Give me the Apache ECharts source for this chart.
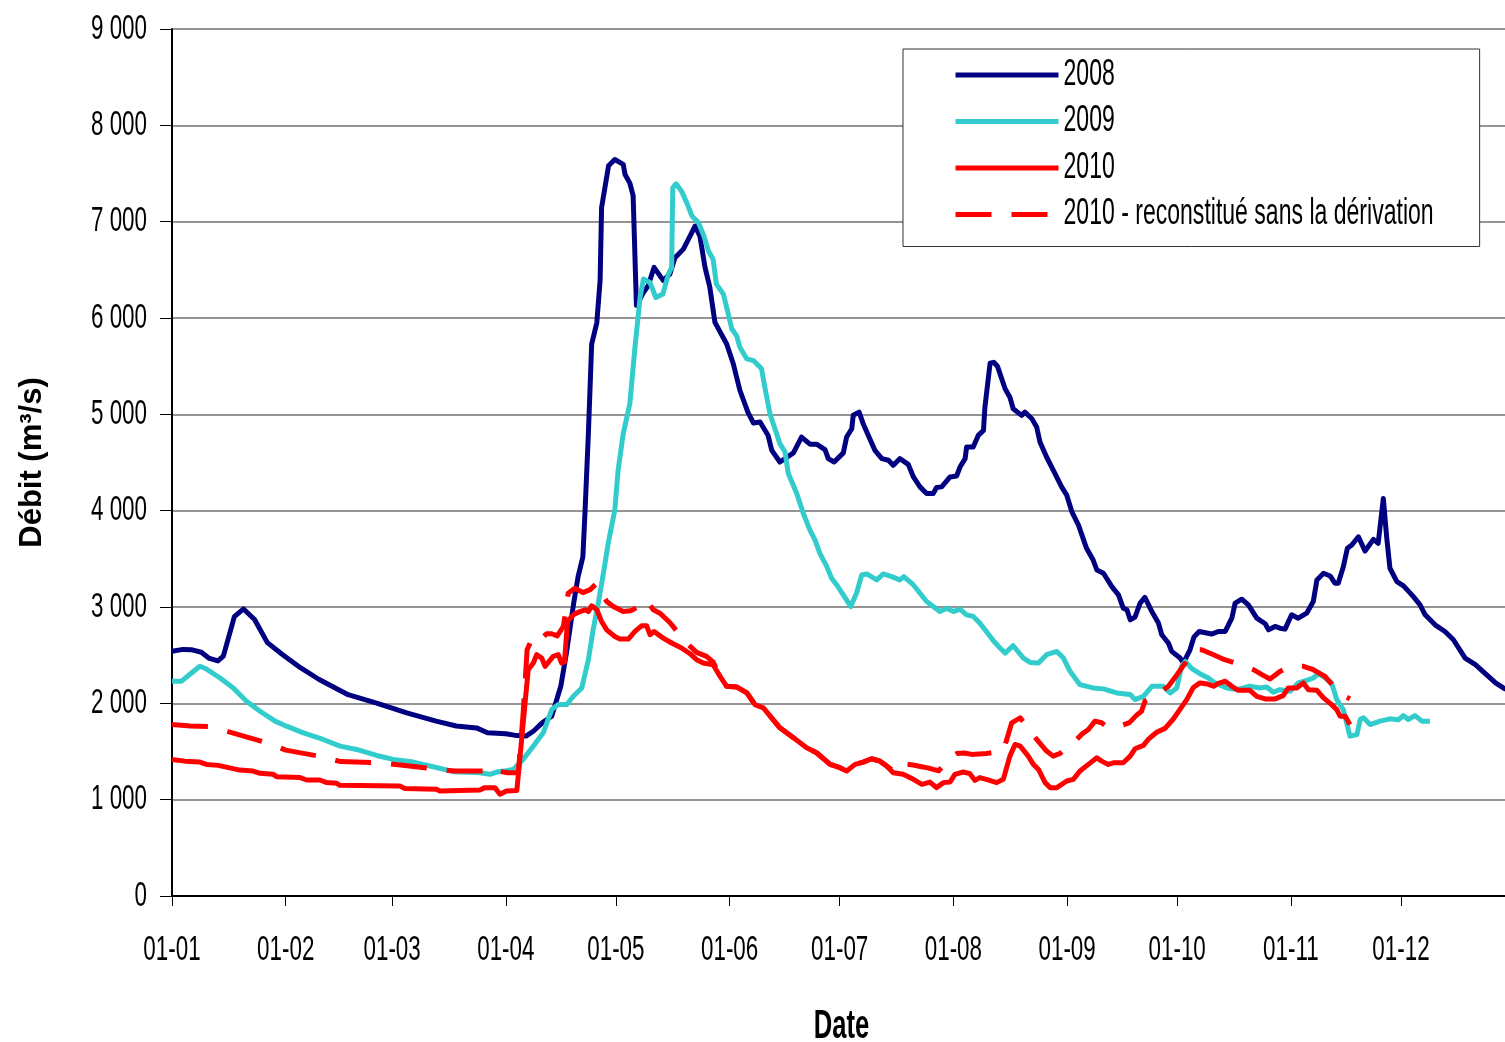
<!DOCTYPE html>
<html lang="fr">
<head>
<meta charset="utf-8">
<title>Débit journalier 2008-2010</title>
<script src="https://cdn.jsdelivr.net/npm/echarts@6/dist/echarts.min.js"></script>
<style>
  html, body { margin: 0; padding: 0; background: #fff; }
  #chart { width: 1505px; height: 1042px; }
</style>
</head>
<body>
<div id="chart"></div>
<script>
// Axe des dates : jour de l'année (0 = 1er janvier), début de chaque mois
const monthStarts = [0, 31, 60, 91, 121, 152, 182, 213, 244, 274, 305, 335];
const monthLabels = ['01-01', '01-02', '01-03', '01-04', '01-05', '01-06',
                     '01-07', '01-08', '01-09', '01-10', '01-11', '01-12'];

const seriesNames = ['2008', '2009', '2010', '2010 - reconstitué sans la dérivation'];

// Débits journaliers [jour, m3/s]
const flow2008 = [
  [0,2540],[3,2560],[5.5,2555],[8,2530],[10,2470],[12.5,2440],[14,2490],[17,2900],[19.5,2980],[22.5,2870],
  [26,2630],[30,2510],[35,2370],[40,2250],[48,2090],[56,2000],[64,1900],[72,1815],[77.5,1765],[83,1745],
  [86,1695],[91,1685],[94,1665],[96.5,1660],[98.5,1710],[101,1800],[103.5,1866],[106,2180],[107.5,2520],
  [109.5,3040],[110.7,3315],[112,3520],[112.6,4000],[113.5,4800],[114.4,5730],[115.8,5950],[116.7,6390],
  [117.1,7145],[119,7580],[120.7,7645],[123,7595],[123.5,7490],[124.8,7400],[125.7,7270],[126.6,6130],
  [128.5,6265],[129.8,6335],[131.4,6525],[133.9,6390],[135.7,6455],[137.1,6625],[139.4,6715],[141.2,6850],
  [142.6,6955],[143.9,6850],[145.3,6525],[146.6,6320],[148,5955],[151.2,5730],[153,5525],[154.8,5250],
  [157,5020],[158.5,4910],[160.3,4920],[162.5,4780],[163.5,4626],[165.7,4505],[169.4,4600],[171.6,4764],
  [173.9,4690],[175.7,4690],[178,4634],[178.9,4540],[180.5,4505],[183,4600],[183.9,4764],[185.3,4851],
  [185.7,4990],[187.3,5023],[188.4,4903],[191.6,4626],[193.5,4540],[195.3,4523],[196.6,4471],[198.4,4540],
  [200.7,4481],[202.1,4350],[203.9,4247],[205.7,4178],[207.5,4178],[208.4,4240],[209.8,4247],[212.1,4350],
  [213.9,4360],[214.8,4453],[216.2,4540],[216.6,4660],[218.4,4660],[219.8,4782],[221.2,4833],[221.6,5075],
  [223,5530],[224,5540],[225,5500],[227.1,5265],[228.4,5178],[229.3,5058],[231.6,4989],[232.5,5023],
  [234.4,4954],[235.7,4868],[236.6,4713],[238.4,4557],[240.7,4385],[242.5,4247],[243.9,4161],[245.3,3988],
  [247.1,3850],[249.3,3609],[251.1,3488],[252.1,3384],[253.9,3350],[256.2,3212],[258,3126],[259.3,2988],
  [260.3,2971],[261.2,2867],[262.5,2895],[263.9,3040],[265.2,3100],[267.1,2953],[268.9,2833],[269.8,2712],
  [271.6,2626],[272.5,2539],[274.8,2470],[275.7,2420],[277.5,2556],[278.6,2690],[280,2746],[283.4,2719],
  [285.2,2746],[287.1,2746],[288.9,2884],[289.8,3040],[291.6,3081],[293.4,3022],[295.7,2884],[298,2826],
  [298.9,2763],[300.7,2798],[302,2780],[303.4,2770],[305.2,2919],[307,2884],[309.3,2936],[311.1,3057],
  [312.1,3281],[313.9,3350],[315.7,3322],[317,3247],[317.9,3247],[319.3,3419],[320.4,3609],[321.6,3643],
  [323.4,3729],[325.2,3581],[327.5,3702],[328.8,3661],[330.2,4126],[331.1,3729],[332,3402],[333.9,3263],
  [335.7,3219],[338.4,3108],[340.2,3022],[341.6,2919],[344.3,2815],[347,2746],[349.3,2660],[352.5,2470],
  [355.3,2401],[358,2308],[360.8,2212],[362.9,2160],[365,2120]
];

const flow2009 = [
  [0,2230],[2.6,2230],[5.3,2315],[7.6,2385],[9.4,2356],[13.1,2263],[16.7,2160],[20.3,2022],[24,1918],
  [28.1,1815],[31.2,1763],[35.8,1694],[41.2,1625],[45.8,1556],[50.3,1521],[55.8,1459],[60.3,1418],
  [65.8,1390],[71.2,1342],[76.7,1291],[83.9,1280],[86.7,1263],[88.5,1287],[91,1300],[93,1314],[95.7,1418],
  [98.5,1556],[101.2,1694],[103.5,1935],[105.3,1987],[107.6,1987],[109.4,2073],[111.7,2160],[113.5,2453],
  [114.8,2763],[116.2,3040],[117.6,3350],[118.9,3661],[120.7,4005],[121.6,4419],[123,4800],[124.8,5110],
  [126.2,5696],[127.6,6213],[128.5,6404],[130.3,6368],[131.9,6213],[133.8,6248],[135.3,6455],[136.2,6524],
  [136.5,7352],[137.4,7393],[138.9,7317],[140.7,7162],[141.7,7059],[143.5,6990],[145,6852],[146.2,6697],
  [147.5,6610],[148.4,6352],[150.3,6248],[151.2,6110],[152.6,5886],[153.9,5817],[154.8,5696],[156.7,5575],
  [158.5,5558],[160.7,5472],[161.6,5282],[163,5006],[164.8,4799],[165.7,4696],[167.1,4609],[168,4385],
  [170.3,4178],[172.1,3971],[173.9,3798],[175.3,3695],[176.6,3557],[178.5,3419],[179.8,3298],[181.2,3229],
  [183,3126],[185,3005],[186.6,3143],[188,3333],[189.4,3343],[192.1,3281],[193.9,3343],[196.2,3315],
  [198.4,3281],[199.5,3315],[202.1,3229],[203.9,3143],[205.7,3057],[209.3,2953],[211.2,2988],[213,2953],
  [214.8,2978],[216.6,2919],[218.4,2902],[220.2,2833],[222,2746],[223.9,2650],[225.7,2574],[227.1,2522],
  [229.3,2598],[232.1,2470],[233.9,2425],[236.2,2419],[238.4,2505],[241.2,2539],[243,2470],[244.8,2332],
  [247.5,2194],[251.1,2160],[253.9,2150],[257.5,2108],[261.2,2091],[262.5,2039],[264.8,2073],[267.1,2177],
  [270.2,2177],[272.1,2108],[273.9,2160],[275.2,2384],[276.2,2435],[278,2360],[280.2,2308],[282.5,2263],
  [284.3,2212],[287.5,2160],[290.2,2142],[293.8,2177],[296.5,2160],[298.4,2170],[300.2,2115],[302,2142],
  [304.8,2125],[307,2212],[309.3,2239],[311.1,2263],[312.5,2308],[314.3,2263],[316.1,2212],[317.5,2039],
  [319.3,1935],[321.1,1659],[323,1677],[323.9,1832],[324.8,1850],[326.6,1780],[329.3,1815],[332,1839],
  [334.3,1830],[335.7,1873],[337,1832],[338.8,1873],[340.7,1815],[342.9,1815]
];

const flow2010 = [
  [0,1418],[3.5,1400],[7.6,1390],[9.4,1366],[12.6,1356],[18.5,1307],[22.1,1297],[24,1273],[27.6,1263],
  [28.5,1239],[34.9,1229],[36.7,1204],[40.3,1204],[42.2,1177],[44.9,1170],[45.8,1149],[62.1,1142],
  [63.5,1115],[72.1,1107],[73,1090],[83.9,1100],[85.3,1125],[88,1125],[89.4,1056],[91.2,1090],[94,1095],
  [97.1,2349],[98.5,2419],[99.4,2505],[100.8,2470],[101.7,2384],[103.9,2487],[105.3,2505],[106.2,2419],
  [107,2430],[107.8,2850],[109.4,2919],[111.2,2953],[112.6,2971],[113.5,2953],[114.4,3012],[115.8,2971],
  [117.1,2850],[118.5,2763],[120.7,2694],[122.1,2667],[124.4,2667],[126.2,2746],[128,2805],[129.4,2805],
  [130.3,2712],[131.4,2746],[133.9,2677],[136.2,2626],[138.9,2574],[141.2,2515],[143,2453],[144.8,2419],
  [147.5,2401],[149.4,2280],[151.2,2177],[153.9,2170],[156.7,2108],[158.9,1987],[161.2,1953],[165.7,1746],
  [169.4,1643],[173,1539],[175.7,1487],[179.4,1366],[182.1,1332],[183.9,1297],[186.2,1366],[188.4,1390],
  [190.7,1425],[193,1400],[194.8,1349],[196.6,1280],[199.3,1263],[202.1,1211],[204.4,1159],[206.6,1183],
  [208.4,1125],[210.3,1177],[212.1,1183],[213.4,1263],[215.7,1287],[217.5,1270],[218.9,1200],[220.2,1229],
  [222,1211],[224.8,1177],[226.6,1211],[228.4,1452],[229.8,1573],[231.2,1556],[233.4,1452],[234.8,1366],
  [236.2,1314],[238,1177],[239.4,1125],[241.2,1125],[243.9,1194],[245.7,1211],[247.5,1297],[249.8,1366],
  [252.1,1435],[253.4,1400],[255.2,1366],[256.6,1383],[259.3,1383],[261.2,1452],[262.5,1528],[264.8,1563],
  [266.1,1625],[268.4,1700],[270.7,1740],[273,1840],[275,1950],[276.6,2039],[278.4,2165],[280.2,2212],
  [282.3,2200],[283.9,2177],[285.2,2208],[287.1,2229],[288.9,2177],[290.7,2135],[293.8,2135],[295.7,2073],
  [298,2046],[300.7,2046],[302.9,2080],[304.3,2160],[306.6,2160],[308.4,2212],[309.8,2142],[312.1,2135],
  [313.9,2056],[316.1,1987],[317.5,1935],[318.4,1866],[319.8,1866],[321.1,1780]
];

// 2010 reconstitué sans la dérivation
const flow2010Rec = [
  [0,1780],[5,1765],[10,1758],[14,1720],[20,1655],[26,1590],[31,1514],[40,1452],[46,1395],[56,1385],
  [61,1366],[71,1321],[77,1297],[85,1297],[86,1330],[88,1300],[91.6,1280],[94.4,1280],[95.7,1884],
  [96.8,2556],[98,2660],[99.4,2712],[100.8,2677],[102.1,2722],[103.5,2722],[105,2700],[106.7,2798],
  [108,3143],[109.8,3195],[112,3150],[114,3180],[115.8,3247],[117.1,3143],[118.5,3057],[120.3,3005],
  [123,2953],[125,2960],[127,3000],[129.4,3074],[131.2,2971],[133,2936],[135.7,2839],[138,2730],
  [140.3,2626],[143,2529],[145.7,2487],[147.5,2430],[149.4,2280],[151.2,2177],[153.9,2170],[156.7,2108],
  [158.9,1987],[161.2,1953],[165.7,1746],[169.4,1643],[173,1539],[175.7,1487],[179.4,1366],[182.1,1332],
  [183.9,1297],[186.2,1366],[188.4,1390],[190.7,1425],[193,1400],[194.8,1349],[196.6,1300],[198.4,1380],
  [200,1370],[202,1360],[204,1345],[206,1330],[207.5,1314],[209,1300],[212,1435],[214,1480],[216,1485],
  [218,1470],[220,1475],[222,1480],[224,1490],[226.6,1504],[228.9,1798],[231.2,1850],[233,1760],
  [235.7,1625],[238.4,1504],[240.2,1452],[242.1,1480],[243.9,1539],[246,1600],[248,1680],[249.8,1728],
  [251.6,1815],[253.4,1798],[255.2,1746],[258.4,1763],[261,1800],[263,1880],[264.3,1918],[265.2,2022],
  [267.5,2073],[269.8,2125],[271.6,2177],[274,2300],[276.2,2419],[277.5,2522],[279.3,2556],[280.7,2556],
  [283.9,2505],[286.5,2460],[289.8,2419],[292,2390],[294.8,2349],[297.1,2298],[299.3,2253],[302,2330],
  [304.8,2384],[308.4,2384],[311.1,2349],[314.3,2280],[316.5,2180],[318.9,2091],[321.1,2046]
];

// Police étroite : "Arial Narrow" est émulée en comprimant horizontalement
// le texte dessiné (et sa mesure) lorsque la police n'est pas installée.
const NARROW_FAMILY = '"Arial Narrow", "Liberation Sans", Arial, sans-serif';
const NARROW_RATIO = 0.64;
(function () {
  const proto = CanvasRenderingContext2D.prototype;
  const fill = proto.fillText;
  const stroke = proto.strokeText;
  const measure = proto.measureText;
  const isNarrow = ctx => (ctx.font || '').indexOf('Arial Narrow') >= 0;
  function squeezed(draw) {
    return function (text, x, y) {
      if (!isNarrow(this)) return draw.apply(this, arguments);
      this.save();
      this.translate(x, y);
      this.scale(NARROW_RATIO, 1);
      draw.call(this, text, 0, 0);
      this.restore();
    };
  }
  proto.fillText = squeezed(fill);
  proto.strokeText = squeezed(stroke);
  proto.measureText = function (text) {
    const m = measure.call(this, text);
    if (!isNarrow(this)) return m;
    return {
      width: m.width * NARROW_RATIO,
      actualBoundingBoxLeft: m.actualBoundingBoxLeft * NARROW_RATIO,
      actualBoundingBoxRight: m.actualBoundingBoxRight * NARROW_RATIO,
      actualBoundingBoxAscent: m.actualBoundingBoxAscent,
      actualBoundingBoxDescent: m.actualBoundingBoxDescent,
      fontBoundingBoxAscent: m.fontBoundingBoxAscent,
      fontBoundingBoxDescent: m.fontBoundingBoxDescent
    };
  };
})();

function thousands(v) {
  return String(v).replace(/\B(?=(\d{3})+(?!\d))/g, ' ');
}

function lineSeries(name, data, color, type) {
  return {
    name: name,
    type: 'line',
    data: data,
    symbol: 'none',
    smooth: false,
    clip: true,
    lineStyle: { color: color, width: 5, type: type || 'solid', cap: 'butt', join: 'round' },
    itemStyle: { color: color }
  };
}

const chart = echarts.init(document.getElementById('chart'), null, { renderer: 'canvas' });

chart.setOption({
  backgroundColor: '#ffffff',
  animation: false,
  grid: { left: 172, top: 29, width: 1339, height: 867, containLabel: false, outerBoundsMode: 'none' },
  legend: {
    orient: 'vertical',
    left: 903,
    top: 49,
    itemWidth: 103,
    itemHeight: 26,
    itemGap: 20.5,
    padding: [13, 46, 19, 50],
    backgroundColor: '#ffffff',
    borderColor: '#333333',
    borderWidth: 1,
    itemStyle: { opacity: 0 },
    lineStyle: { width: 5 },
    textStyle: { fontFamily: NARROW_FAMILY, fontSize: 36, lineHeight: 26, color: '#000' },
    data: seriesNames.map(n => ({ name: n }))
  },
  xAxis: {
    type: 'value',
    min: 0,
    max: 365,
    name: 'Date',
    nameLocation: 'middle',
    nameGap: 111,
    nameTextStyle: { fontFamily: NARROW_FAMILY, fontWeight: 'bold', fontSize: 40, lineHeight: 40, color: '#000' },
    axisLine: { show: true, lineStyle: { color: '#000', width: 2 } },
    axisTick: { show: true, customValues: monthStarts, length: 10, lineStyle: { color: '#000', width: 1 } },
    axisLabel: {
      customValues: monthStarts,
      margin: 37,
      fontFamily: NARROW_FAMILY,
      fontSize: 35,
      lineHeight: 35,
      color: '#000',
      formatter: v => monthLabels[monthStarts.indexOf(v)] || ''
    },
    splitLine: { show: false }
  },
  yAxis: {
    type: 'value',
    min: 0,
    max: 9000,
    interval: 1000,
    name: 'Débit (m³/s)',
    nameLocation: 'middle',
    nameGap: 124,
    nameRotate: 90,
    nameTextStyle: { fontFamily: '"Liberation Sans", Arial, sans-serif', fontWeight: 'bold', fontSize: 31, color: '#000' },
    axisLine: { show: true, lineStyle: { color: '#000', width: 2 } },
    axisTick: { show: true, inside: false, length: 12, lineStyle: { color: '#000', width: 1 } },
    axisLabel: {
      margin: 25,
      fontFamily: NARROW_FAMILY,
      fontSize: 35,
      lineHeight: 35,
      padding: [0, 0, 10, 0],
      color: '#000',
      formatter: thousands
    },
    splitLine: { show: true, lineStyle: { color: '#707070', width: 1.5 } }
  },
  series: [
    lineSeries(seriesNames[0], flow2008, '#000080'),
    lineSeries(seriesNames[1], flow2009, '#33CCCC'),
    lineSeries(seriesNames[2], flow2010, '#FF0000'),
    lineSeries(seriesNames[3], flow2010Rec, '#FF0000', [36, 20])
  ]
});
</script>
</body>
</html>
